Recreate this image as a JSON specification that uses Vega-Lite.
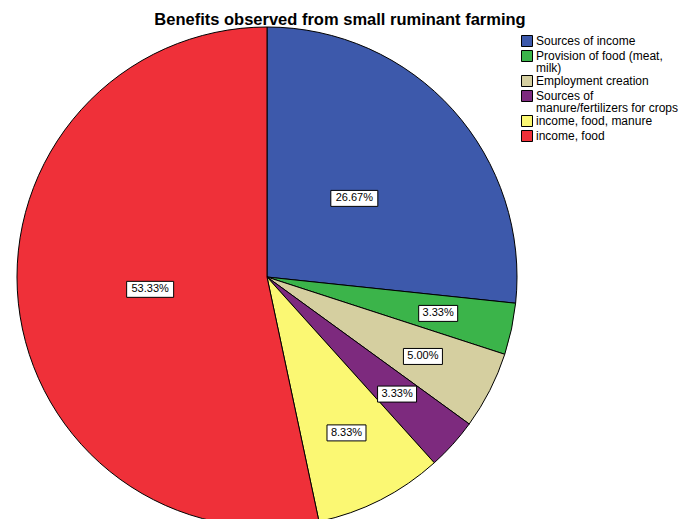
{
  "$schema": "https://vega.github.io/schema/vega-lite/v6.json",
  "width": 534,
  "height": 554,
  "autosize": {"type": "none"},
  "padding": {"left": 0, "top": 0, "right": 147, "bottom": 0},
  "background": "white",
  "title": {
    "text": "Benefits observed from small ruminant farming",
    "fontSize": 16.5,
    "fontWeight": "bold",
    "font": "Liberation Sans",
    "anchor": "middle",
    "dx": 73,
    "offset": -28,
    "color": "#000"
  },
  "config": {"view": {"stroke": null}, "font": "Liberation Sans"},
  "data": {
    "values": [
      {"benefit": "Sources of income", "pct": 26.67},
      {"benefit": "Provision of food (meat, milk)", "pct": 3.33},
      {"benefit": "Employment creation", "pct": 5.0},
      {"benefit": "Sources of manure/fertilizers for crops", "pct": 3.33},
      {"benefit": "income, food, manure", "pct": 8.33},
      {"benefit": "income, food", "pct": 53.33}
    ]
  },
  "transform": [
    {"window": [{"op": "sum", "field": "pct", "as": "cum"}, {"op": "row_number", "as": "k"}], "frame": [null, 0]},
    {"calculate": "(datum.cum - datum.pct/2)/100*2*PI", "as": "mid"},
    {"calculate": "datum.pct < 10 ? 0.7 : 0.47", "as": "r"},
    {"calculate": "datum.r*sin(datum.mid)", "as": "lx"},
    {"calculate": "datum.r*cos(datum.mid)", "as": "ly"},
    {"calculate": "format(datum.pct, '.2f') + '%'", "as": "txt"}
  ],
  "layer": [
    {
      "mark": {"type": "arc", "outerRadius": 250, "stroke": "#000", "strokeWidth": 1},
      "encoding": {
        "theta": {"field": "pct", "type": "quantitative", "stack": true},
        "order": {"field": "k", "type": "quantitative"},
        "color": {
          "field": "benefit",
          "type": "nominal",
          "scale": {
            "domain": ["Sources of income", "Provision of food (meat, milk)", "Employment creation", "Sources of manure/fertilizers for crops", "income, food, manure", "income, food"],
            "range": ["#3d59ab", "#3bb44a", "#d5cfa0", "#7d2a7e", "#fbf873", "#ef3039"]
          },
          "legend": {
            "orient": "none",
            "legendX": 521,
            "legendY": 35,
            "title": null,
            "symbolType": "square",
            "symbolSize": 121,
            "symbolStrokeColor": "#000",
            "symbolStrokeWidth": 1,
            "symbolOpacity": 1,
            "labelFontSize": 12,
            "labelFont": "Liberation Sans",
            "labelColor": "#000",
            "labelOffset": 3,
            "rowPadding": -1,
            "labelLimit": 200,
            "labelExpr": "datum.label == 'Provision of food (meat, milk)' ? ['Provision of food (meat,', 'milk)'] : datum.label == 'Sources of manure/fertilizers for crops' ? ['Sources of', 'manure/fertilizers for crops'] : datum.label",
            "encode": {"labels": {"update": {"lineHeight": {"value": 12}}}}
          }
        }
      }
    },
    {
      "mark": {"type": "point", "filled": true, "fill": "white", "stroke": "#000", "strokeWidth": 1, "opacity": 1},
      "encoding": {
        "x": {"field": "lx", "type": "quantitative", "scale": {"domain": [-1.068, 1.068]}, "axis": null},
        "y": {"field": "ly", "type": "quantitative", "scale": {"domain": [-1.108, 1.108]}, "axis": null},
        "shape": {"condition": {"test": "datum.pct >= 10", "value": "M-1,-0.34H1V0.34H-1Z"}, "value": "M-1,-0.41H1V0.41H-1Z"},
        "size": {"condition": {"test": "datum.pct >= 10", "value": 2209}, "value": 1521}
      }
    },
    {
      "mark": {"type": "text", "fontSize": 11, "font": "Liberation Sans", "color": "#000"},
      "encoding": {
        "x": {"field": "lx", "type": "quantitative", "scale": {"domain": [-1.068, 1.068]}, "axis": null},
        "y": {"field": "ly", "type": "quantitative", "scale": {"domain": [-1.108, 1.108]}, "axis": null},
        "text": {"field": "txt", "type": "nominal"}
      }
    }
  ]
}
